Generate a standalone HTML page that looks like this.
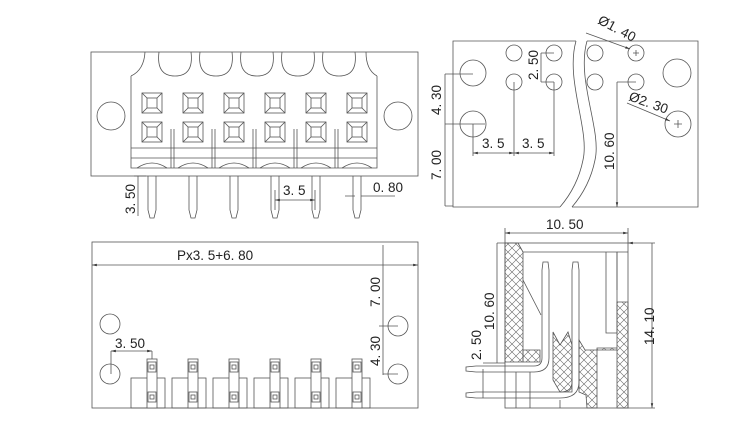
<!DOCTYPE html>
<html><head><meta charset="utf-8"><style>
html,body{margin:0;padding:0;background:#fff;}
svg{display:block;}
text{font-family:"Liberation Sans",sans-serif;font-size:13.5px;fill:#222;}
</style></head><body>
<svg width="750" height="446" viewBox="0 0 750 446" xmlns="http://www.w3.org/2000/svg">
<defs>
<pattern id="hx" width="8" height="8" patternUnits="userSpaceOnUse">
<path d="M0 0L8 8M8 0L0 8" stroke="#666" stroke-width="0.6"/>
</pattern>
<marker id="ar" markerWidth="6" markerHeight="6" refX="6" refY="3" orient="auto-start-reverse"><path d="M0 1.5L6 3L0 4.5z" fill="#333"/></marker>
</defs>
<g fill="none" stroke="#555" stroke-width="0.8">
<!-- TOP LEFT VIEW -->
<rect x="91" y="52" width="327" height="124"/>
<path d="M131 76 L131 168 L377 168 L377 76"/>
<path d="M131 76 Q144 70 145 52"/>
<path d="M159 52 Q156 76 175 76 Q194 76 191 52"/>
<path d="M200 52 Q197 76 216 76 Q235 76 232 52"/>
<path d="M241 52 Q238 76 257 76 Q276 76 273 52"/>
<path d="M282 52 Q279 76 298 76 Q317 76 314 52"/>
<path d="M323 52 Q320 76 339 76 Q358 76 355 52"/>
<path d="M366 52 Q366 70 377 76"/>
<circle cx="111" cy="116" r="14"/>
<circle cx="398" cy="116" r="14"/>
<path d="M131 148 H377 M131 158 H377"/>
</g>
<g fill="none" stroke="#555" stroke-width="0.8" id="sq">
<rect x="142" y="93" width="20" height="20"/><rect x="147" y="98" width="10" height="10"/>
<path d="M142 93l5 5M162 93l-5 5M142 113l5-5M162 113l-5-5"/>
<rect x="142" y="122" width="20" height="20"/><rect x="147" y="127" width="10" height="10"/>
<path d="M142 122l5 5M162 122l-5 5M142 142l5-5M162 142l-5-5"/>
<path d="M137 168 Q152 158 167 168"/>
<path d="M148 176 V210 L150 218 H154 L156 210 V176"/>
</g>
<use href="#sq" x="41"/><use href="#sq" x="82"/><use href="#sq" x="123"/><use href="#sq" x="164"/><use href="#sq" x="205"/>
<g fill="none" stroke="#555" stroke-width="0.8">
<path d="M171 129 V168 M174 129 V168 M212 129 V168 M215 129 V168 M253 129 V168 M256 129 V168 M294 129 V168 M297 129 V168 M335 129 V168 M338 129 V168"/>
<path d="M138 176 V216 M134 176 H146" />
<path d="M275 200 H315" marker-start="url(#ar)" marker-end="url(#ar)"/>
<path d="M275 190 V210 M315 190 V210"/>
<path d="M345 196 H355 M361 196 H395" />
</g>
<text x="283" y="195">3. 5</text>
<text x="373" y="192">0. 80</text>
<text transform="translate(135,214) rotate(-90)">3. 50</text>

<!-- TOP RIGHT VIEW -->
<g fill="none" stroke="#555" stroke-width="0.8">
<path d="M576 41 H453 V207 H560 M587 41 H698 V207 H572"/>
<path d="M576 41 C565 80 590 130 583 160 C578 185 566 200 560 207"/>
<path d="M587 41 C576 80 602 130 595 160 C590 185 578 200 572 207"/>
<circle cx="473" cy="73" r="13"/><circle cx="473" cy="124" r="13"/>
<circle cx="514" cy="53" r="8"/><circle cx="514" cy="82" r="8"/>
<circle cx="554" cy="53" r="8"/><circle cx="554" cy="82" r="8"/>
<circle cx="595" cy="53" r="8"/><circle cx="595" cy="82" r="8"/>
<circle cx="636" cy="53" r="8"/><circle cx="636" cy="82" r="8"/>
<circle cx="677" cy="73" r="14"/><circle cx="678" cy="124" r="13"/>
<path d="M633 53h6M636 50v6M674 124h8M678 120v8"/>
<path d="M445 74 H473 M445 124 H485 M445 206 H453 M445 74 V206"/>
<path d="M473 124 V156 M514 82 V156 M554 82 V156"/>
<path d="M473 153 H514" marker-start="url(#ar)" marker-end="url(#ar)"/>
<path d="M514 153 H554" marker-start="url(#ar)" marker-end="url(#ar)"/>
<path d="M541 53 H554 M541 82 H554 M541 53 V82"/>
<path d="M617 82 H636 M617 82 V207" marker-end="url(#ar)"/>
<path d="M586 33 L630 49" marker-end="url(#ar)"/>
<path d="M627 103 L670 121" marker-end="url(#ar)"/>
</g>
<text x="482" y="148">3. 5</text>
<text x="522" y="148">3. 5</text>
<text transform="translate(441,115) rotate(-90)">4. 30</text>
<text transform="translate(441,180) rotate(-90)">7. 00</text>
<text transform="translate(538,80) rotate(-90)">2. 50</text>
<text transform="translate(614,170) rotate(-90)">10. 60</text>
<text transform="translate(597,23) rotate(28)">Ø1. 40</text>
<text transform="translate(628,100) rotate(20)">Ø2. 30</text>

<!-- BOTTOM LEFT VIEW -->
<g fill="none" stroke="#555" stroke-width="0.8">
<rect x="92" y="242" width="326" height="166"/>
<path d="M92 265 H418" marker-start="url(#ar)" marker-end="url(#ar)"/>
<circle cx="110" cy="324" r="10"/><circle cx="110" cy="374" r="10"/>
<circle cx="398" cy="326" r="10"/><circle cx="398" cy="374" r="10"/>
<path d="M383 245 V375 M379 326 H398 M383 374 H398"/>
<path d="M111 351 H152" marker-start="url(#ar)" marker-end="url(#ar)"/>
<path d="M111 351 V374 M152 351 V360"/>
</g>
<g id="bp" fill="none" stroke="#555" stroke-width="0.8">
<rect x="131" y="378" width="34" height="30"/>
<rect x="147" y="359" width="10" height="49" fill="#fff"/>
<rect x="148" y="362" width="8" height="10"/><rect x="150" y="365" width="4" height="4"/>
<rect x="148" y="392" width="8" height="10"/><rect x="150" y="395" width="4" height="4"/>
</g>
<use href="#bp" x="41"/><use href="#bp" x="82"/><use href="#bp" x="123"/><use href="#bp" x="164"/><use href="#bp" x="205"/>
<text x="177" y="260">Px3. 5+6. 80</text>
<text x="115" y="348">3. 50</text>
<text transform="translate(380,307) rotate(-90)">7. 00</text>
<text transform="translate(380,366) rotate(-90)">4. 30</text>

<!-- BOTTOM RIGHT VIEW -->
<g fill="none" stroke="#555" stroke-width="0.8">
<path d="M505 233 H628" marker-start="url(#ar)" marker-end="url(#ar)"/>
<path d="M505 228 V243 M628 228 V243"/>
<rect x="505" y="243" width="123" height="165"/>
<path d="M505 243 H518 L523 252 V362 H505 Z" fill="url(#hx)"/>
<path d="M523 350 L540 350 V362 H523 Z" fill="url(#hx)"/>
<path d="M553 332 L560 345 L568 332 L572 345 V392 L560 392 L553 380 Z" fill="url(#hx)"/>
<path d="M579 340 L585 350 H617 V302 H628 V408 H617 V348 H597 V408 H587 L586 395 L579 392 Z" fill="url(#hx)"/>
<path d="M523 252 H617 V333 H606 V252"/>
<path d="M617 252 H628 M617 290 V252"/>
<path d="M523 280 L541 315"/>
<path d="M542 270 V358 Q542 366 534 366 H476 M549 270 V358 Q549 372 534 372 H476"/>
<path d="M542 270 L543 262 H548 L549 270"/>
<path d="M572 270 V382 Q572 392 560 392 H476 M579 270 V382 Q579 398 560 398 H476"/>
<path d="M572 270 L573 262 H578 L579 270"/>
<path d="M476 366 L466 367 V371 L476 372 M476 392 L466 393 V397 L476 398"/>
<path d="M505 243 H497 M505 363 H483 M497 243 V363" />
<path d="M483 369 V398"/>
<path d="M628 243 H655 M628 408 H655 M652 243 V408" marker-start="url(#ar)" marker-end="url(#ar)"/>
<path d="M516 372 V408 M530 372 V408 M560 400 V408"/>
</g>
<text x="546" y="229">10. 50</text>
<text transform="translate(494,330) rotate(-90)">10. 60</text>
<text transform="translate(481,360) rotate(-90)">2. 50</text>
<text transform="translate(654,345) rotate(-90)">14. 10</text>
</svg>
</body></html>
